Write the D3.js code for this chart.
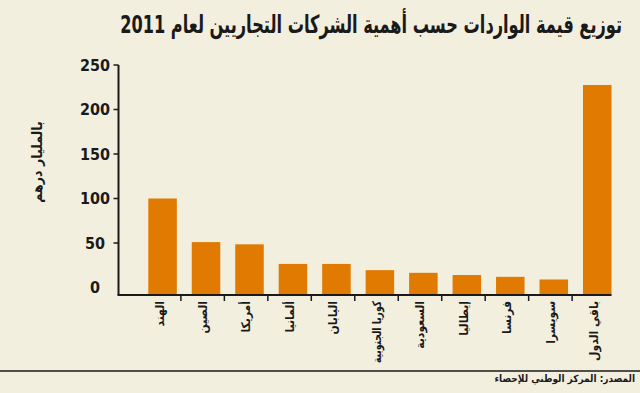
<!DOCTYPE html>
<html><head><meta charset="utf-8">
<script src="https://cdn.jsdelivr.net/npm/d3@7"></script>
<style>
html,body{margin:0;padding:0;background:#f3efde;}
svg{display:block;}
text{font-family:"DejaVu Sans Condensed","DejaVu Sans",sans-serif;font-weight:bold;fill:#1a1a1a;}
</style></head>
<body>
<svg id="chart" width="640" height="393"></svg>
<script>
const title = "توزيع قيمة الواردات حسب أهمية الشركات التجاريين لعام 2011";
const yLabel = "بالمليار درهم";
const source = "المصدر: المركز الوطني للإحصاء";
const categories = ["الهند","الصين","أمريكا","ألمانيا","اليابان","كوريا الجنوبية","السعودية","إيطاليا","فرنسا","سويسرا","باقي الدول"];
const values = [100, 51, 48.5, 26.5, 26.5, 19.5, 16.5, 14, 12, 9, 227.5];
const yTicks = [0, 50, 100, 150, 200, 250];

const svg = d3.select("#chart");
const W = 640, H = 393;
svg.append("rect").attr("width", W).attr("height", H).attr("fill", "#f3efde");

const axisX = 118.5, baseY = 295;
const y = d3.scaleLinear().domain([0, 250]).range([287.5, 65]);
const x = d3.scaleBand().domain(categories).range([148.3, 611.5]).paddingInner(0.344).paddingOuter(0);
const step = x.step(), bw = x.bandwidth();

// title: taller glyphs, horizontally condensed to the reference width
const t = svg.append("text").attr("x", 0).attr("y", 0).attr("text-anchor", "end")
  .attr("font-size", 25).text(title);
const tw = t.node().getComputedTextLength();
t.attr("transform", `translate(622,33) scale(${Math.min(1, 502 / tw)},1)`);

// y label
svg.append("text").attr("transform", "translate(37,162) rotate(-90)")
  .attr("text-anchor", "middle").attr("dominant-baseline", "central")
  .attr("font-size", 14).text(yLabel);

// bars
svg.selectAll("rect.bar").data(values).join("rect").attr("class", "bar")
  .attr("x", (d, i) => x(categories[i]))
  .attr("y", d => y(d))
  .attr("width", bw)
  .attr("height", d => baseY - y(d))
  .attr("fill", "#e07a00");

// y axis line
svg.append("line").attr("x1", axisX).attr("x2", axisX).attr("y1", y(250)).attr("y2", baseY)
  .attr("stroke", "#1a1a1a").attr("stroke-width", 2);
// y ticks
svg.selectAll("line.yt").data(yTicks.filter(d => d > 0)).join("line").attr("class", "yt")
  .attr("x1", axisX - 5).attr("x2", axisX).attr("y1", d => y(d)).attr("y2", d => y(d))
  .attr("stroke", "#1a1a1a").attr("stroke-width", 1.5);
svg.selectAll("text.yl").data(yTicks).join("text").attr("class", "yl")
  .attr("x", 95).attr("y", d => y(d)).attr("text-anchor", "middle")
  .attr("dominant-baseline", "central").attr("font-size", 16).text(d => d);

// x axis
svg.append("line").attr("x1", axisX - 1).attr("x2", x.range()[1]).attr("y1", baseY).attr("y2", baseY)
  .attr("stroke", "#1a1a1a").attr("stroke-width", 2.2);
svg.selectAll("line.xt").data(categories.slice(1)).join("line").attr("class", "xt")
  .attr("x1", d => x(d) - step * 0.25).attr("x2", d => x(d) - step * 0.25)
  .attr("y1", baseY).attr("y2", baseY + 6)
  .attr("stroke", "#1a1a1a").attr("stroke-width", 1.5);
svg.selectAll("text.xl").data(categories).join("text").attr("class", "xl")
  .attr("transform", d => `translate(${x(d) + bw / 2 - 3},${baseY + 6}) rotate(-90)`)
  .attr("text-anchor", "end").attr("dominant-baseline", "central")
  .attr("font-size", 12).text(d => d)
  .each(function () {
    const len = this.getComputedTextLength();
    if (len > 62) d3.select(this).attr("textLength", 62).attr("lengthAdjust", "spacingAndGlyphs");
  });

// bottom rule & source
svg.append("line").attr("x1", 0).attr("x2", W).attr("y1", 371).attr("y2", 371)
  .attr("stroke", "#1a1a1a").attr("stroke-width", 1.6);
svg.append("text").attr("x", 635).attr("y", 382).attr("text-anchor", "end")
  .attr("font-size", 10).text(source);
</script>
</body></html>
